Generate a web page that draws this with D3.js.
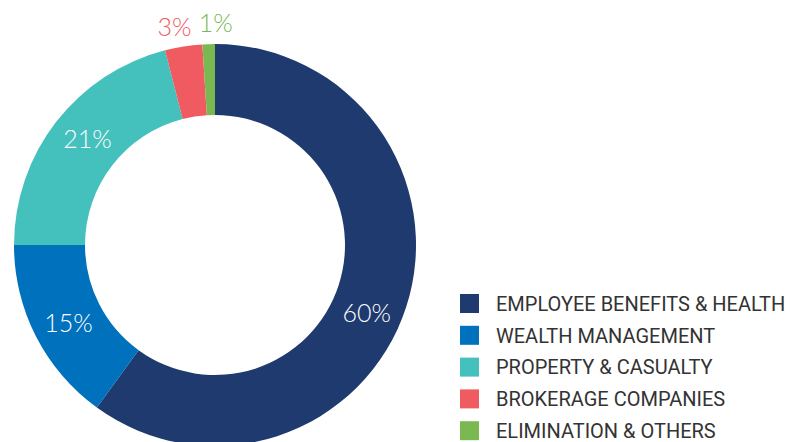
<!DOCTYPE html>
<html>
<head>
<meta charset="utf-8">
<script src="https://cdn.jsdelivr.net/npm/d3@7"></script>
<style>
  html, body { margin: 0; padding: 0; background: #fff; }
  svg { display: block; }
</style>
</head>
<body>
<div id="chart"></div>
<script>
// Business segments and their share of the total
const segments = [
  "EMPLOYEE BENEFITS & HEALTH",
  "WEALTH MANAGEMENT",
  "PROPERTY & CASUALTY",
  "BROKERAGE COMPANIES",
  "ELIMINATION & OTHERS"
];
const shares = [60, 15, 21, 3, 1];
const shareLabels = ["60%", "15%", "21%", "3%", "1%"];
const colors = ["#1f3a6e", "#0071bc", "#45c1bd", "#f05b61", "#7ab851"];

const W = 792, H = 442;
const cx = 215, cy = 245;
const rOuter = 201, rInner = 130;

const svg = d3.select("#chart").append("svg")
  .attr("width", W).attr("height", H);

const data = segments.map((name, i) => ({ name, value: shares[i], label: shareLabels[i], color: colors[i] }));

const pie = d3.pie().sort(null).value(d => d.value);
const arcs = pie(data);

const arc = d3.arc().innerRadius(rInner).outerRadius(rOuter);

const g = svg.append("g").attr("transform", `translate(${cx},${cy})`);

g.selectAll("path.slice")
  .data(arcs)
  .join("path")
  .attr("class", "slice")
  .attr("d", arc)
  .attr("fill", d => d.data.color);

// Labels: large slices inside the ring in white, small slices above the ring in their own colour
const deg = Math.PI / 180;
const labelNudge = [6, -1, 2, -1.5, 2]; // degrees, along the ring
const insideR = 166, outsideR = 222;
g.selectAll("text.pct")
  .data(arcs)
  .join("text")
  .attr("class", "pct")
  .each(function(d, i) {
    const outside = d.data.value < 5;
    const a = (d.startAngle + d.endAngle) / 2 + labelNudge[i] * deg;
    const r = outside ? outsideR : insideR;
    d3.select(this)
      .attr("x", r * Math.sin(a))
      .attr("y", -r * Math.cos(a))
      .attr("fill", outside ? d.data.color : "#ffffff");
  })
  .attr("text-anchor", "middle")
  .attr("dy", "0.36em")
  .style("font-family", "Lato, 'Open Sans', sans-serif")
  .style("font-weight", 300)
  .style("font-size", "25px")
  .text(d => d.data.label);

// Legend
const legend = svg.append("g").attr("transform", "translate(460,294)");
const rowH = 31.8;
const rows = legend.selectAll("g.row")
  .data(data)
  .join("g")
  .attr("class", "row")
  .attr("transform", (d, i) => `translate(0,${i * rowH})`);

rows.append("rect")
  .attr("width", 19).attr("height", 19)
  .attr("fill", d => d.color);

rows.append("text")
  .attr("x", 36).attr("y", 9.5)
  .attr("dy", "0.36em")
  .attr("fill", "#333333")
  .style("font-family", "Roboto, 'Noto Sans', sans-serif")
  .style("font-size", "20px")
  .text(d => d.name);
</script>
</body>
</html>
